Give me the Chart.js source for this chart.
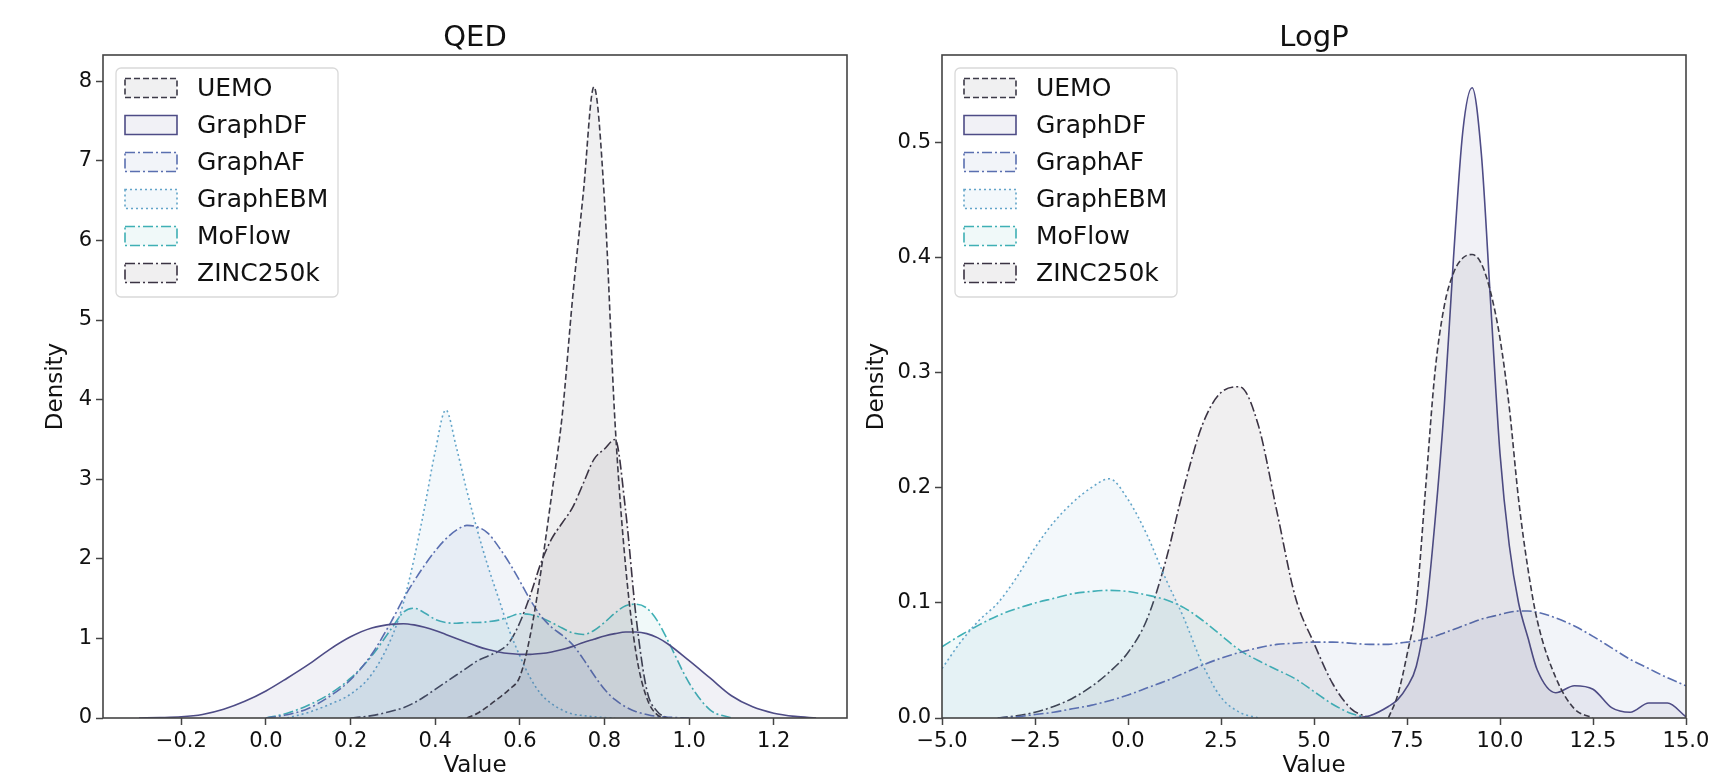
<!DOCTYPE html>
<html lang="en">
<head>
<meta charset="UTF-8">
<title>QED / LogP density</title>
<script src="https://cdn.jsdelivr.net/npm/chart.js"></script>
<style>
  body { margin: 0; background: #fff; }
  #wrap { position: relative; width: 1716px; height: 778px; }
  .panel { position: absolute; top: 0; width: 858px; height: 778px; }
</style>
</head>
<body>
<div id="wrap">
  <div class="panel" style="left:0"><canvas id="qedChart"></canvas></div>
  <div class="panel" style="left:858px"><canvas id="logpChart"></canvas></div>
</div>
<script>
const N = null;

// series order (same in both panels)
const seriesNames = ['UEMO', 'GraphDF', 'GraphAF', 'GraphEBM', 'MoFlow', 'ZINC250k'];

// ---- QED panel: shared x grid, densities per model ----
const qedX = [-0.35, -0.3, -0.25, -0.2, -0.15, -0.1, -0.05, 0, 0.05, 0.1, 0.15, 0.2, 0.25, 0.3,
  0.325, 0.35, 0.375, 0.4, 0.425, 0.45, 0.475, 0.5, 0.525, 0.55, 0.575, 0.6, 0.625, 0.65, 0.675,
  0.7, 0.725, 0.75, 0.775, 0.8, 0.825, 0.85, 0.875, 0.9, 0.925, 0.95,
  1.0, 1.05, 1.1, 1.15, 1.2, 1.25, 1.3, 1.35];

const qedUemo = [N, N, N, N, N, N, N, N, N, N, N, N, N, N,
  N, N, N, N, N, N, 0.0, 0.06, 0.15, 0.25, 0.36, 0.52, 1.05, 1.85, 2.8, 3.8, 5.3, 6.6, 7.93, 6.5, 3.7, 1.9, 0.8, 0.25, 0.04, 0.0,
  N, N, N, N, N, N, N, N];
const qedGraphDF = [N, 0.0, 0.005, 0.015, 0.045, 0.11, 0.21, 0.34, 0.5, 0.67, 0.86, 1.02, 1.13, 1.18,
  1.185, 1.17, 1.14, 1.1, 1.05, 1.0, 0.95, 0.9, 0.86, 0.83, 0.81, 0.8, 0.8, 0.81, 0.83, 0.86, 0.9, 0.95, 0.99, 1.03, 1.06, 1.08, 1.08, 1.06, 1.01, 0.93,
  0.72, 0.5, 0.28, 0.14, 0.06, 0.02, 0.0, N];
const qedGraphAF = [N, N, N, N, N, N, N, 0.0, 0.04, 0.12, 0.27, 0.48, 0.8, 1.25,
  1.5, 1.72, 1.92, 2.1, 2.25, 2.36, 2.42, 2.4, 2.32, 2.15, 1.95, 1.72, 1.48, 1.28, 1.14, 1.04, 0.92, 0.74, 0.54, 0.36, 0.23, 0.14, 0.08, 0.045, 0.02, 0.01,
  0.0, N, N, N, N, N, N, N];
const qedGraphEBM = [N, N, N, N, N, N, N, N, 0.0, 0.07, 0.17, 0.3, 0.55, 1.05,
  1.45, 2.0, 2.65, 3.35, 3.87, 3.4, 2.85, 2.35, 1.9, 1.5, 1.1, 0.78, 0.5, 0.3, 0.18, 0.1, 0.05, 0.03, 0.015, 0.005, 0.0, N, N, N, N, N,
  N, N, N, N, N, N, N, N];
const qedMoFlow = [N, N, N, N, N, N, N, 0.0, 0.06, 0.16, 0.3, 0.5, 0.78, 1.15,
  1.33, 1.38, 1.32, 1.24, 1.2, 1.19, 1.2, 1.2, 1.21, 1.23, 1.27, 1.31, 1.3, 1.26, 1.2, 1.13, 1.07, 1.05, 1.1, 1.2, 1.32, 1.41, 1.43, 1.38, 1.22, 0.97,
  0.44, 0.1, 0.0, N, N, N, N, N];
const qedZinc = [N, N, N, N, N, N, N, N, N, N, N, 0.0, 0.03, 0.09,
  0.13, 0.19, 0.27, 0.36, 0.45, 0.54, 0.63, 0.72, 0.78, 0.84, 0.95, 1.2, 1.55, 1.95, 2.25, 2.45, 2.65, 2.95, 3.25, 3.38, 3.5, 2.6, 1.25, 0.35, 0.08, 0.0,
  N, N, N, N, N, N, N, N];

// ---- LogP panel ----
const logpX = [-5, -4.5, -4, -3.5, -3, -2.5, -2, -1.5, -1, -0.5,
  0, 0.5, 1, 1.5, 2, 2.5, 3, 3.5, 4, 4.5,
  5, 5.5, 6, 6.5, 7,
  7.25, 7.5, 7.75, 8, 8.25, 8.5, 8.75, 9, 9.25, 9.5, 9.75, 10, 10.25, 10.5, 10.75, 11,
  11.5, 12, 12.5, 13, 13.5, 14, 14.5, 15];

const logpUemo = [N, N, N, N, N, N, N, N, N, N,
  N, N, N, N, N, N, N, N, N, N,
  N, N, N, N, 0.0,
  0.02, 0.055, 0.1, 0.2, 0.3, 0.358, 0.387, 0.4, 0.403, 0.395, 0.37, 0.33, 0.27, 0.19, 0.13, 0.085,
  0.035, 0.008, 0.0, N, N, N, N, N];
const logpGraphDF = [N, N, N, N, N, N, N, N, N, N,
  N, N, N, N, N, N, N, N, N, N,
  N, N, 0.0, 0.002, 0.01,
  0.016, 0.027, 0.045, 0.09, 0.17, 0.27, 0.4, 0.51, 0.548, 0.49, 0.36, 0.23, 0.15, 0.1, 0.07, 0.042,
  0.022, 0.028, 0.025, 0.009, 0.005, 0.013, 0.013, 0.001];
const logpGraphAF = [N, N, N, 0.0, 0.001, 0.003, 0.005, 0.008, 0.011, 0.015,
  0.02, 0.026, 0.032, 0.039, 0.046, 0.052, 0.057, 0.061, 0.064, 0.065,
  0.066, 0.066, 0.065, 0.064, 0.064,
  0.065, 0.066, 0.067, 0.069, 0.071, 0.074, 0.077, 0.08, 0.083, 0.086, 0.088, 0.09, 0.092, 0.093, 0.093, 0.092,
  0.087, 0.08, 0.071, 0.061, 0.051, 0.043, 0.035, 0.028];
const logpGraphEBM = [0.043, 0.066, 0.085, 0.1, 0.122, 0.148, 0.17, 0.187, 0.2, 0.208,
  0.19, 0.16, 0.122, 0.087, 0.047, 0.018, 0.005, 0.0, N, N,
  N, N, N, N, N,
  N, N, N, N, N, N, N, N, N, N, N, N, N, N, N, N,
  N, N, N, N, N, N, N, N];
const logpMoFlow = [0.062, 0.072, 0.081, 0.089, 0.095, 0.1, 0.104, 0.108, 0.11, 0.111,
  0.11, 0.107, 0.103, 0.096, 0.085, 0.072, 0.059, 0.05, 0.042, 0.034,
  0.023, 0.012, 0.004, 0.0, N,
  N, N, N, N, N, N, N, N, N, N, N, N, N, N, N, N,
  N, N, N, N, N, N, N, N];
const logpZinc = [N, N, N, 0.0, 0.002, 0.005, 0.01, 0.017, 0.027, 0.04,
  0.057, 0.085, 0.135, 0.2, 0.255, 0.283, 0.288, 0.255, 0.18, 0.105,
  0.065, 0.03, 0.008, 0.0, N,
  N, N, N, N, N, N, N, N, N, N, N, N, N, N, N, N,
  N, N, N, N, N, N, N, N];

// styles
const lineColors = ['#3c3a48', '#4e4c86', '#5a6fb0', '#63a5c9', '#3fb0b5', '#3b3343'];
const dashes = [[6, 3], [], [10, 3, 2, 3], [2, 3], [10, 3, 2, 3], [10, 3, 2, 3]];
const FONT = '"DejaVu Sans", sans-serif';
const TEXT = '#111';

function fillColor(hex, a) {
  const n = parseInt(hex.slice(1), 16);
  return `rgba(${n >> 16}, ${(n >> 8) & 255}, ${n & 255}, ${a})`;
}

function fmt(v, digits) {
  const s = Math.abs(v).toFixed(digits);
  return (v < -1e-9 ? '\u2212' : '') + s;
}

function makeDatasets(xs, series) {
  return series.map((vals, i) => ({
    label: seriesNames[i],
    data: xs.map((x, j) => ({ x: x, y: vals[j] })).filter(p => p.y !== null),
    borderColor: lineColors[i],
    backgroundColor: fillColor(lineColors[i], 0.08),
    borderDash: dashes[i],
    borderWidth: 1.6,
    fill: 'origin',
    pointRadius: 0,
    cubicInterpolationMode: 'monotone'
  }));
}

// spines, title and legend box drawn like matplotlib
const panelDecor = {
  id: 'panelDecor',
  afterDraw(chart, args, opts) {
    const { ctx, chartArea: a } = chart;
    ctx.save();
    ctx.strokeStyle = '#444';
    ctx.lineWidth = 1.6;
    ctx.strokeRect(a.left, a.top, a.right - a.left, a.bottom - a.top);

    ctx.fillStyle = TEXT;
    ctx.font = '29px ' + FONT;
    ctx.textAlign = 'center';
    ctx.textBaseline = 'alphabetic';
    ctx.fillText(opts.title, (a.left + a.right) / 2, a.top - 9);

    const bx = a.left + 13, by = a.top + 13, bw = 222, bh = 229;
    ctx.beginPath();
    if (ctx.roundRect) ctx.roundRect(bx, by, bw, bh, 5); else ctx.rect(bx, by, bw, bh);
    ctx.fillStyle = 'rgba(255,255,255,0.8)';
    ctx.fill();
    ctx.strokeStyle = '#d9d9d9';
    ctx.lineWidth = 1.3;
    ctx.stroke();

    chart.data.datasets.forEach((ds, i) => {
      const cy = by + 20 + i * 37;
      ctx.beginPath();
      ctx.rect(bx + 9, cy - 9.5, 52, 19);
      ctx.fillStyle = ds.backgroundColor;
      ctx.fill();
      ctx.setLineDash(ds.borderDash);
      ctx.strokeStyle = ds.borderColor;
      ctx.lineWidth = 1.6;
      ctx.stroke();
      ctx.setLineDash([]);
      ctx.fillStyle = TEXT;
      ctx.font = '25px ' + FONT;
      ctx.textAlign = 'left';
      ctx.textBaseline = 'middle';
      ctx.fillText(ds.label, bx + 81, cy + 1);
    });
    ctx.restore();
  }
};

function makeChart(id, cfg) {
  const tickGrid = { display: true, drawOnChartArea: false, drawTicks: true, tickLength: 7, tickColor: '#444', tickWidth: 1.5 };
  return new Chart(document.getElementById(id), {
    type: 'line',
    data: { datasets: makeDatasets(cfg.xs, cfg.series) },
    options: {
      responsive: true,
      maintainAspectRatio: false,
      animation: false,
      devicePixelRatio: 1,
      layout: { padding: { left: 0, right: cfg.rightPad, top: 55, bottom: 0 } },
      plugins: {
        legend: { display: false },
        tooltip: { enabled: false },
        panelDecor: { title: cfg.title }
      },
      scales: {
        x: {
          type: 'linear',
          min: cfg.xMin, max: cfg.xMax,
          afterFit: s => { s.height = 60; },
          grid: tickGrid,
          border: { display: false },
          ticks: {
            stepSize: cfg.xStep, includeBounds: false, autoSkip: false, maxRotation: 0,
            padding: 4, color: TEXT, font: { family: FONT, size: 21 },
            callback: v => fmt(v, cfg.xDigits)
          },
          title: { display: true, text: 'Value', color: TEXT, font: { family: FONT, size: 23, lineHeight: 1 }, padding: { top: 0, bottom: 0 } }
        },
        y: {
          type: 'linear',
          min: 0, max: cfg.yMax,
          afterFit: s => { s.width = cfg.yWidth; },
          grid: tickGrid,
          border: { display: false },
          ticks: {
            stepSize: cfg.yStep, includeBounds: false, autoSkip: false,
            padding: 4, color: TEXT, font: { family: FONT, size: 21 },
            callback: v => fmt(v, cfg.yDigits)
          },
          title: { display: true, text: 'Density', color: TEXT, font: { family: FONT, size: 23, lineHeight: 1 }, padding: { top: cfg.yTitlePad, bottom: 0 } }
        }
      }
    },
    plugins: [panelDecor]
  });
}

makeChart('qedChart', {
  title: 'QED', xs: qedX,
  series: [qedUemo, qedGraphDF, qedGraphAF, qedGraphEBM, qedMoFlow, qedZinc],
  xMin: -0.385, xMax: 1.373, xStep: 0.2, xDigits: 1,
  yMax: 8.33, yStep: 1, yDigits: 0,
  yWidth: 103, rightPad: 11, yTitlePad: 45
});

makeChart('logpChart', {
  title: 'LogP', xs: logpX,
  series: [logpUemo, logpGraphDF, logpGraphAF, logpGraphEBM, logpMoFlow, logpZinc],
  xMin: -5, xMax: 15, xStep: 2.5, xDigits: 1,
  yMax: 0.5765, yStep: 0.1, yDigits: 1,
  yWidth: 84, rightPad: 30, yTitlePad: 8
});
</script>
</body>
</html>
